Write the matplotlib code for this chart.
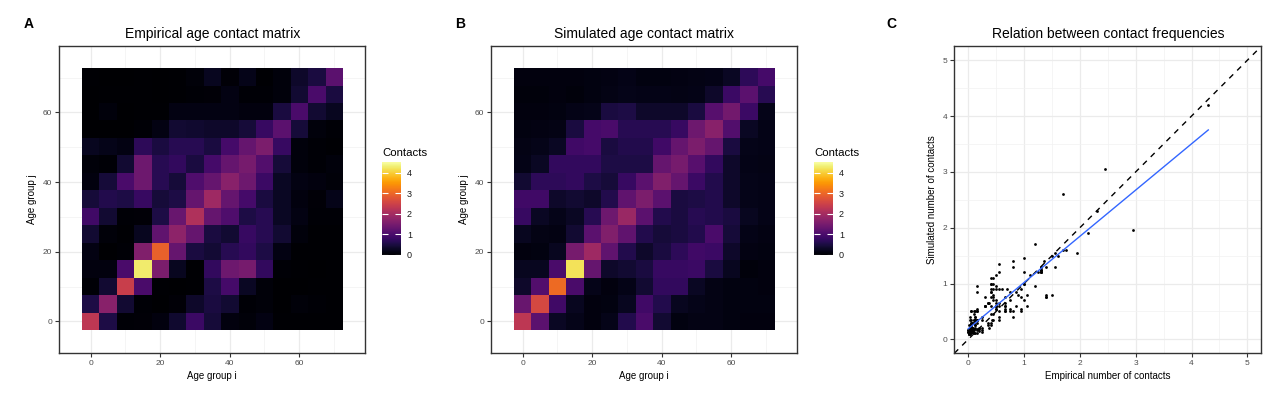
import numpy as np
import matplotlib
matplotlib.use("Agg")
import matplotlib.pyplot as plt

plt.rcParams['font.family'] = ['Liberation Sans', 'DejaVu Sans']

# age groups (lower bound of each 5-year band)
ages = [0, 5, 10, 15, 20, 25, 30, 35, 40, 45, 50, 55, 60, 65, 70]

# empirical contacts, rows = age group j (0 -> 70), columns = age group i
empirical = [
    [2.30, 0.55, 0.05, 0.07, 0.12, 0.38, 0.85, 0.45, 0.12, 0.08, 0.15, 0.03, 0.02, 0.02, 0.02],
    [0.55, 1.70, 0.40, 0.05, 0.01, 0.07, 0.35, 0.50, 0.40, 0.05, 0.08, 0.01, 0.08, 0.05, 0.02],
    [0.05, 0.40, 2.45, 1.00, 0.03, 0.01, 0.03, 0.55, 0.95, 0.30, 0.08, 0.00, 0.00, 0.02, 0.02],
    [0.12, 0.12, 1.00, 4.30, 1.55, 0.25, 0.03, 0.75, 1.40, 1.50, 0.75, 0.05, 0.02, 0.01, 0.03],
    [0.15, 0.00, 0.05, 1.60, 2.95, 1.30, 0.50, 0.42, 0.65, 0.75, 0.55, 0.15, 0.03, 0.02, 0.02],
    [0.40, 0.08, 0.02, 0.25, 1.25, 1.75, 1.30, 0.50, 0.40, 0.80, 0.65, 0.40, 0.10, 0.03, 0.03],
    [0.90, 0.40, 0.05, 0.07, 0.55, 1.35, 2.15, 1.30, 1.05, 0.55, 0.65, 0.30, 0.15, 0.05, 0.05],
    [0.45, 0.60, 0.55, 0.80, 0.45, 0.55, 1.30, 1.95, 1.30, 0.95, 0.50, 0.30, 0.12, 0.07, 0.20],
    [0.12, 0.45, 1.00, 1.40, 0.65, 0.45, 1.05, 1.30, 1.70, 1.40, 0.85, 0.30, 0.15, 0.12, 0.08],
    [0.08, 0.05, 0.40, 1.40, 0.65, 0.75, 0.50, 0.95, 1.30, 1.50, 1.10, 0.45, 0.10, 0.05, 0.10],
    [0.25, 0.20, 0.15, 0.70, 0.50, 0.65, 0.65, 0.50, 0.95, 1.30, 1.55, 0.80, 0.10, 0.05, 0.03],
    [0.01, 0.01, 0.00, 0.05, 0.15, 0.40, 0.38, 0.35, 0.35, 0.45, 0.80, 1.20, 0.45, 0.10, 0.05],
    [0.01, 0.10, 0.01, 0.03, 0.03, 0.15, 0.15, 0.15, 0.15, 0.12, 0.12, 0.50, 1.00, 0.40, 0.25],
    [0.01, 0.03, 0.03, 0.02, 0.01, 0.02, 0.05, 0.07, 0.15, 0.05, 0.05, 0.10, 0.40, 1.00, 0.50],
    [0.02, 0.01, 0.01, 0.03, 0.01, 0.03, 0.08, 0.25, 0.07, 0.20, 0.02, 0.10, 0.35, 0.50, 1.20],
]

# simulated contacts, same layout
simulated = [
    [2.30, 1.20, 0.30, 0.20, 0.11, 0.20, 0.60, 1.00, 0.40, 0.14, 0.16, 0.16, 0.14, 0.12, 0.12],
    [1.35, 2.60, 0.90, 0.25, 0.12, 0.14, 0.25, 0.90, 0.60, 0.25, 0.20, 0.16, 0.14, 0.14, 0.13],
    [0.35, 1.10, 3.05, 1.00, 0.20, 0.12, 0.18, 0.40, 0.75, 0.75, 0.30, 0.16, 0.14, 0.14, 0.12],
    [0.25, 0.25, 1.00, 4.20, 1.30, 0.35, 0.40, 0.50, 0.80, 0.80, 0.85, 0.50, 0.25, 0.10, 0.12],
    [0.12, 0.14, 0.25, 1.50, 1.95, 1.25, 0.60, 0.35, 0.50, 0.70, 0.90, 0.85, 0.35, 0.15, 0.14],
    [0.25, 0.16, 0.15, 0.40, 1.20, 1.60, 1.25, 0.60, 0.45, 0.50, 0.60, 1.00, 0.45, 0.18, 0.15],
    [0.80, 0.30, 0.20, 0.30, 0.65, 1.40, 1.90, 1.20, 0.60, 0.50, 0.65, 0.60, 0.50, 0.25, 0.18],
    [0.90, 0.90, 0.35, 0.40, 0.35, 0.60, 1.25, 1.55, 1.20, 0.50, 0.55, 0.60, 0.35, 0.20, 0.18],
    [0.40, 0.70, 0.70, 0.75, 0.55, 0.45, 0.80, 1.20, 1.60, 1.30, 0.85, 0.60, 0.35, 0.20, 0.18],
    [0.18, 0.30, 0.75, 0.75, 0.75, 0.55, 0.55, 0.55, 1.30, 1.50, 1.15, 0.75, 0.35, 0.18, 0.16],
    [0.16, 0.20, 0.30, 0.90, 0.95, 0.50, 0.60, 0.60, 0.90, 1.30, 1.55, 1.30, 0.50, 0.20, 0.18],
    [0.14, 0.15, 0.16, 0.50, 0.95, 1.00, 0.65, 0.65, 0.65, 0.80, 1.40, 1.70, 1.10, 0.30, 0.18],
    [0.12, 0.12, 0.14, 0.18, 0.20, 0.50, 0.55, 0.35, 0.35, 0.35, 0.50, 1.15, 1.45, 0.85, 0.20],
    [0.10, 0.10, 0.11, 0.10, 0.14, 0.16, 0.20, 0.18, 0.18, 0.16, 0.18, 0.35, 0.85, 1.20, 0.65],
    [0.12, 0.12, 0.11, 0.12, 0.13, 0.15, 0.18, 0.14, 0.14, 0.15, 0.16, 0.18, 0.30, 0.70, 0.95],
]

W, H = 1288, 398
fig = plt.figure(figsize=(W / 100, H / 100), dpi=100)


def px_axes(x0, y0, x1, y1):
    # pixel box (top-left origin) -> figure axes
    return fig.add_axes([x0 / W, 1 - y1 / H, (x1 - x0) / W, (y1 - y0) / H])


def gg_style(ax):
    for s in ax.spines.values():
        s.set_color('#333333')
        s.set_linewidth(1.0)
    ax.tick_params(length=3, width=0.8, color='#333333', labelsize=6,
                   labelcolor='#4D4D4D', pad=2)
    ax.set_axisbelow(True)
    ax.grid(True, which='major', color='#EBEBEB', lw=0.9)
    ax.grid(True, which='minor', color='#F2F2F2', lw=0.5)
    ax.tick_params(which='minor', length=0)


vmax = 4.55
cmap = plt.get_cmap('inferno')
step = ages[1] - ages[0]
ext = [ages[0] - step / 2, ages[-1] + step / 2, ages[0] - step / 2, ages[-1] + step / 2]

panels = [(59.3, 'A', 'Empirical age contact matrix', empirical),
          (491.3, 'B', 'Simulated age contact matrix', simulated)]

for x0, letter, title, mat in panels:
    ax = px_axes(x0, 46.3, x0 + 306, 352.7)
    ax.imshow(np.array(mat), origin='lower', extent=ext, cmap=cmap,
              vmin=0, vmax=vmax, interpolation='nearest', zorder=2)
    ax.set_aspect('auto')
    ax.set_xlim(-9, 79)
    ax.set_ylim(-9, 79)
    ax.set_xticks([0, 20, 40, 60])
    ax.set_yticks([0, 20, 40, 60])
    ax.set_xticks([10, 30, 50, 70], minor=True)
    ax.set_yticks([10, 30, 50, 70], minor=True)
    gg_style(ax)
    ax.set_xlabel('Age group i', fontsize=7, labelpad=3)
    ax.set_ylabel('Age group j', fontsize=7, labelpad=4)
    ax.set_title(title, fontsize=10, pad=6)
    fig.text((x0 - 31) / W, 1 - 24 / H, letter, fontsize=10, fontweight='bold',
             ha='center', va='center')

    # colour bar, ggplot style
    cx = x0 + 323
    cax = px_axes(cx, 161.7, cx + 19, 255)
    sm = plt.cm.ScalarMappable(cmap=cmap, norm=plt.Normalize(0, vmax))
    cb = fig.colorbar(sm, cax=cax, ticks=[0, 1, 2, 3, 4])
    cb.outline.set_visible(False)
    cb.ax.tick_params(direction='in', color='white', length=4, width=0.8,
                      left=True, right=True, labelsize=6.5, labelcolor='#1a1a1a', pad=4)
    fig.text(cx / W, 1 - 152.5 / H, 'Contacts', fontsize=8.2, va='center')

# panel C: scatter of the two matrices
emp = np.array(empirical).ravel()
sim = np.array(simulated).ravel()
slope, icpt = np.polyfit(emp, sim, 1)

axc = px_axes(954.3, 46.3, 1261.3, 353.3)
axc.set_xlim(-0.25, 5.25)
axc.set_ylim(-0.25, 5.25)
axc.set_xticks(range(6))
axc.set_yticks(range(6))
axc.set_xticks(np.arange(0.5, 5.5, 1), minor=True)
axc.set_yticks(np.arange(0.5, 5.5, 1), minor=True)
gg_style(axc)
axc.axline((0, 0), slope=1, color='black', lw=1, ls=(0, (4, 4)), zorder=2)
axc.scatter(emp, sim, s=4, color='black', lw=0, zorder=3)
xs = np.array([emp.min(), emp.max()])
axc.plot(xs, icpt + slope * xs, color='#3366FF', lw=1, zorder=4)
axc.set_xlabel('Empirical number of contacts', fontsize=7, labelpad=3)
axc.set_ylabel('Simulated number of contacts', fontsize=7, labelpad=4)
axc.set_title('Relation between contact frequencies', fontsize=10, pad=6)
fig.text(891.7 / W, 1 - 24 / H, 'C', fontsize=10, fontweight='bold',
         ha='center', va='center')

fig.savefig('out.png', dpi=100)
